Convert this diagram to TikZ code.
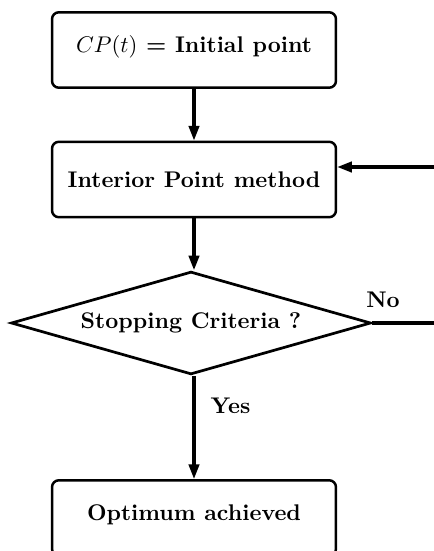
\documentclass[tikz,border=0pt]{standalone}
\usetikzlibrary{shapes.geometric,arrows.meta}
\tikzset{
  flowbox/.style={draw, line width=1.1pt, rounded corners=3pt, minimum width=125.3pt, minimum height=33.3pt, font=\bfseries, inner sep=0pt},
  upbox/.style={flowbox, text height=7.5pt, text depth=5.6pt},
  decision/.style={draw, line width=1.2pt, shape=diamond, shape aspect=3.5, minimum width=155.8pt, minimum height=44.1pt, inner sep=3.33pt, font=\bfseries},
  flow/.style={line width=1.4pt, -{Triangle[length=6.5pt,width=4.6pt]}},
  plain/.style={line width=1.4pt},
  lbl/.style={font=\bfseries, inner sep=0pt, anchor=base}
}
\begin{document}
\begin{tikzpicture}[x=0.4413pt,y=-0.4413pt]
\useasboundingbox (0,0) rectangle (434,551);
\clip (0,0) rectangle (434,551);
\node[upbox] (init) at (194,50) {$CP(t)$ = Initial point};
\node[flowbox] (ipm) at (194,179.5) {Interior Point method};
\node[decision] (stop) at (191,323) {Stopping Criteria ?};
\node[upbox] (opt) at (194,518) {Optimum achieved};
\coordinate (noend) at (460,323);
\coordinate (fbstart) at (460,167);
\draw[flow] (init.south) -- (ipm.north);
\draw[flow] (ipm.south) -- (ipm.south |- stop.north);
\draw[flow] (ipm.south |- stop.south) -- (opt.north);
\draw[plain] (stop.east) -- (noend);
\draw[flow] (fbstart) -- (fbstart -| ipm.east);
\node[lbl] (no) at (383,307) {No};
\node[lbl] (yes) at (230.5,413) {Yes};
\end{tikzpicture}
\end{document}
